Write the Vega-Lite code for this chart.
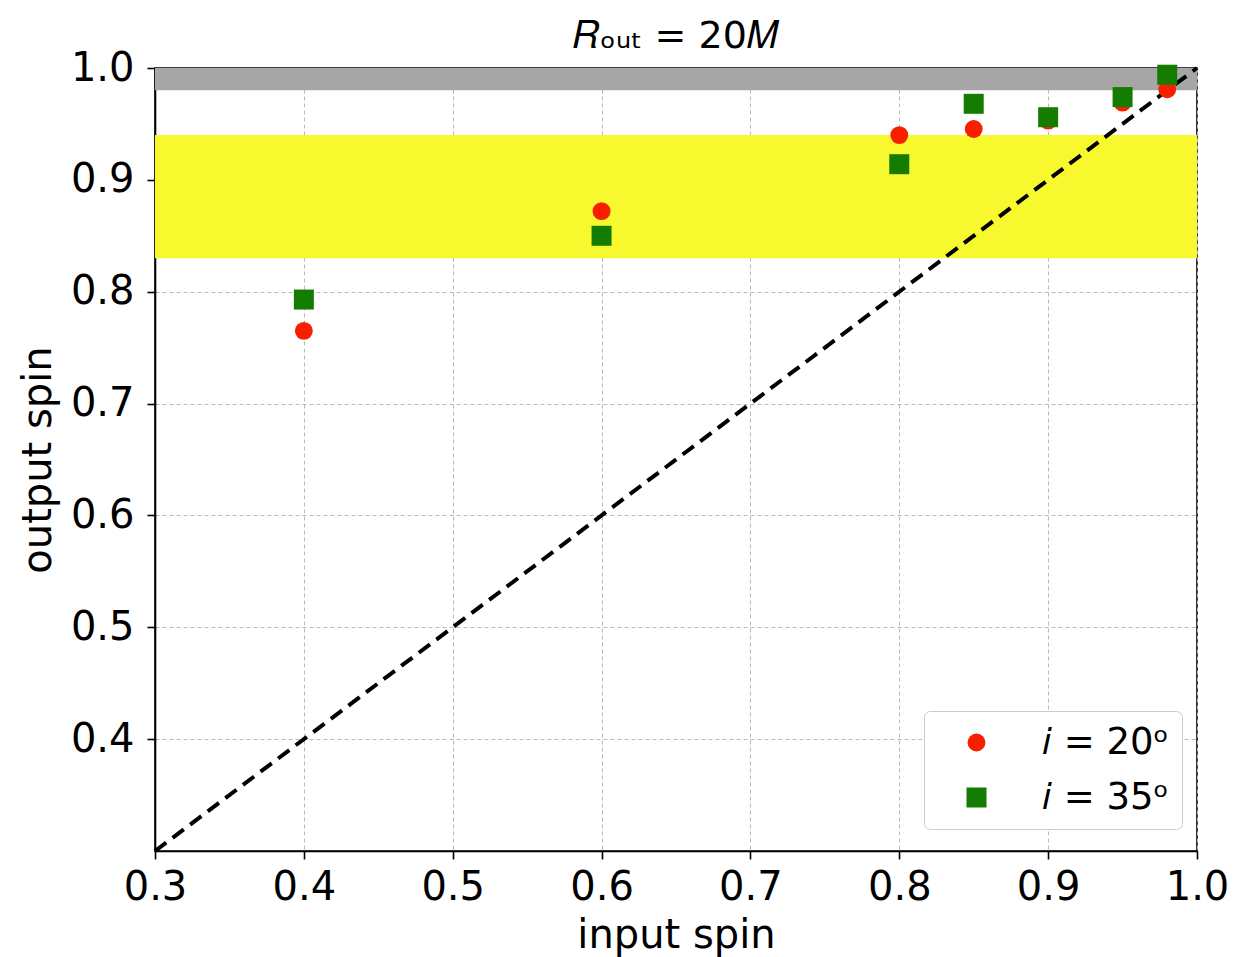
{
  "$schema": "https://vega.github.io/schema/vega-lite/v6.json",
  "width": 1042,
  "height": 783,
  "autosize": {"type": "none"},
  "padding": {"left": 155, "top": 68, "right": 37, "bottom": 106},
  "background": "white",
  "title": {
    "text": "𝑅ₒᵤₜ = 20𝑀",
    "font": "DejaVu Sans",
    "fontSize": 38,
    "fontWeight": "normal",
    "color": "black",
    "anchor": "middle",
    "offset": -8
  },
  "config": {
    "font": "DejaVu Sans",
    "view": {"stroke": "black", "strokeWidth": 1.6},
    "axis": {
      "labelFont": "DejaVu Sans",
      "labelFontSize": 40,
      "labelColor": "black",
      "labelFlush": false,
      "labelOverlap": false,
      "titleFont": "DejaVu Sans",
      "titleFontSize": 40,
      "titleFontWeight": "normal",
      "titleColor": "black",
      "domainColor": "black",
      "domainWidth": 1.6,
      "tickColor": "black",
      "tickWidth": 1.6,
      "tickSize": 8,
      "labelPadding": 8,
      "grid": true,
      "gridColor": "#b8b8b8",
      "gridWidth": 1,
      "gridDash": [4, 3]
    },
    "legend": {
      "labelFont": "DejaVu Sans",
      "labelFontSize": 37,
      "labelColor": "black"
    }
  },
  "datasets": {
    "bands": [
      {"lo": 0.98, "hi": 1.0, "band": "gray"},
      {"lo": 0.83, "hi": 0.94, "band": "yellow"}
    ],
    "diagonal": [
      {"input": 0.3, "output": 0.3},
      {"input": 1.0, "output": 1.0}
    ],
    "spins": [
      {"input": 0.4, "output": 0.765, "incl": "𝑖 = 20ᵒ"},
      {"input": 0.6, "output": 0.872, "incl": "𝑖 = 20ᵒ"},
      {"input": 0.8, "output": 0.940, "incl": "𝑖 = 20ᵒ"},
      {"input": 0.85, "output": 0.9455, "incl": "𝑖 = 20ᵒ"},
      {"input": 0.9, "output": 0.953, "incl": "𝑖 = 20ᵒ"},
      {"input": 0.95, "output": 0.969, "incl": "𝑖 = 20ᵒ"},
      {"input": 0.98, "output": 0.981, "incl": "𝑖 = 20ᵒ"},
      {"input": 0.4, "output": 0.793, "incl": "𝑖 = 35ᵒ"},
      {"input": 0.6, "output": 0.850, "incl": "𝑖 = 35ᵒ"},
      {"input": 0.8, "output": 0.914, "incl": "𝑖 = 35ᵒ"},
      {"input": 0.85, "output": 0.968, "incl": "𝑖 = 35ᵒ"},
      {"input": 0.9, "output": 0.956, "incl": "𝑖 = 35ᵒ"},
      {"input": 0.95, "output": 0.974, "incl": "𝑖 = 35ᵒ"},
      {"input": 0.98, "output": 0.994, "incl": "𝑖 = 35ᵒ"}
    ]
  },
  "layer": [
    {
      "data": {"name": "bands"},
      "mark": {"type": "rect"},
      "encoding": {
        "y": {"field": "lo", "type": "quantitative", "scale": {"domain": [0.3, 1.0], "nice": false, "zero": false},
              "axis": {"title": "output spin", "values": [0.4, 0.5, 0.6, 0.7, 0.8, 0.9, 1.0], "format": ".1f", "labelPadding": 13, "titlePadding": 12}},
        "y2": {"field": "hi"},
        "fill": {"field": "band", "type": "nominal", "scale": {"domain": ["gray", "yellow"], "range": ["#a6a6a6", "#f8f82f"]}, "legend": null}
      }
    },
    {
      "data": {"name": "diagonal"},
      "mark": {"type": "line", "color": "black", "strokeWidth": 4, "strokeDash": [14, 8]},
      "encoding": {
        "x": {"field": "input", "type": "quantitative"},
        "y": {"field": "output", "type": "quantitative"}
      }
    },
    {
      "data": {"name": "spins"},
      "mark": {"type": "point", "filled": true, "opacity": 1},
      "encoding": {
        "x": {"field": "input", "type": "quantitative", "scale": {"domain": [0.3, 1.0], "nice": false, "zero": false},
              "axis": {"title": "input spin", "values": [0.3, 0.4, 0.5, 0.6, 0.7, 0.8, 0.9, 1.0], "format": ".1f", "titlePadding": 8}},
        "y": {"field": "output", "type": "quantitative"},
        "color": {"field": "incl", "type": "nominal", "scale": {"range": ["#f81e00", "#147c00"]},
                  "legend": {"title": null, "orient": "none", "legendX": 769, "legendY": 643,
                             "padding": 13, "symbolOffset": 21, "labelOffset": 47, "rowPadding": 17,
                             "strokeColor": "#cccccc", "cornerRadius": 6, "fillColor": "white",
                             "symbolStrokeWidth": 0}},
        "shape": {"field": "incl", "type": "nominal", "scale": {"range": ["circle", "square"]}},
        "size": {"field": "incl", "type": "nominal", "scale": {"range": [320, 400]}}
      }
    }
  ]
}
